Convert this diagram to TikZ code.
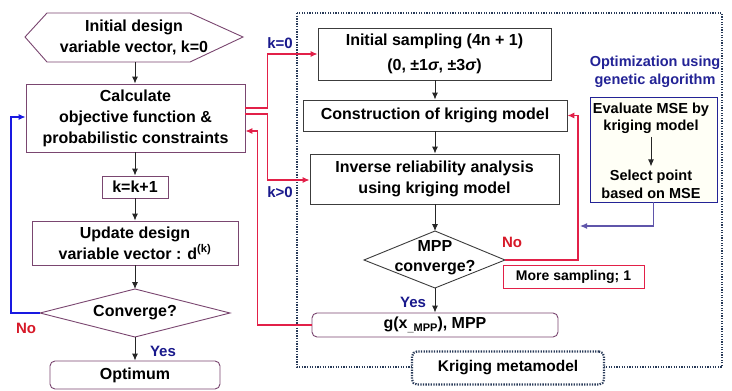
\documentclass[tikz,border=0pt]{standalone}
\usepackage{fontspec}
\setmainfont{Liberation Sans}
\usetikzlibrary{arrows.meta,calc}
\definecolor{purp}{RGB}{122,70,112}
\definecolor{darkbox}{RGB}{60,60,60}
\definecolor{lnred}{RGB}{226,32,72}
\definecolor{loopblue}{RGB}{25,25,225}
\definecolor{lblblue}{RGB}{25,25,140}
\definecolor{nored}{RGB}{215,25,40}
\definecolor{dotcol}{RGB}{40,58,88}
\definecolor{gablue}{RGB}{35,35,150}
\definecolor{gaarrow}{RGB}{95,85,170}
\definecolor{cream}{RGB}{255,255,246}
\begin{document}
\begin{tikzpicture}[x=1pt,y=-1pt,
  txt/.style={inner sep=0pt, align=center, font=\bfseries\fontsize{16}{21}\selectfont},
  lbox/.style={txt, draw=purp, line width=0.9pt, fill=white},
  rbox/.style={txt, draw=darkbox, line width=0.9pt, fill=white},
  arr/.style={-{Latex[length=7pt,width=6pt]}, line width=0.9pt, draw=black!85},
  redln/.style={-{Latex[length=7pt,width=6pt]}, line width=1.1pt, draw=lnred},
  bluelbl/.style={inner sep=0pt, text=lblblue, font=\bfseries\fontsize{15}{18}\selectfont},
  redlbl/.style={inner sep=0pt, text=nored, font=\bfseries\fontsize{15}{18}\selectfont},
  dotline/.style={draw=dotcol, line width=2.2pt, dash pattern=on 1.3pt off 1.3pt}
]
\fill[white] (0,0) rectangle (732,391);
\useasboundingbox (0,0) rectangle (732,391);

% Kriging metamodel frame
\draw[dotline] (297,13) rectangle (722,367);

% ---------------- left column: design loop ----------------
\draw[draw=purp, line width=0.9pt, fill=white]
  (25,37) -- (47,13) -- (190,13) -- (243,37) -- (190,62) -- (47,62) -- cycle;
\node[txt] (init) at (134,37) {Initial design\\variable vector, k=0};
\coordinate (initb) at (135,62);

\node[lbox, minimum width=219pt, minimum height=68pt] (calc) at (135.5,118)
  {Calculate\\objective function \&\\probabilistic constraints};
\node[lbox, minimum width=66pt, minimum height=22pt] (kinc) at (135,187) {k=k+1};
\node[lbox, minimum width=206pt, minimum height=44pt] (upd) at (135,243)
  {Update design\\variable vector : d\textsuperscript{(k)}};

\coordinate (cl) at (40,313);
\coordinate (ct) at (135,289);
\coordinate (cr) at (230,313);
\coordinate (cb) at (135,337);
\draw[draw=purp, line width=0.9pt, fill=white] (cl) -- (ct) -- (cr) -- (cb) -- cycle;
\node[txt] (conv) at (135,313) {Converge?};

\node[lbox, rounded corners=5pt, minimum width=170pt, minimum height=28pt] (opt) at (135,375) {Optimum};

\draw[arr] (initb) -- (initb |- calc.north);
\draw[arr] (kinc.north |- calc.south) -- (kinc.north);
\draw[arr] (kinc.south) -- (upd.north);
\draw[arr] (upd.south) -- (ct);
\draw[arr] (cb) -- (opt.north);

\draw[-{Latex[length=7pt,width=6pt]}, line width=1.1pt, draw=loopblue]
  (cl) -- ++(-29,0) |- ([yshift=1pt]calc.west);
\node[redlbl] at (26,328) {No};
\node[bluelbl] at (163,351) {Yes};

% ---------------- right column: kriging metamodel ----------------
\node[rbox, minimum width=233pt, minimum height=52pt, font=\bfseries\fontsize{16}{25}\selectfont]
  (samp) at (434.5,54) {Initial sampling (4n + 1)\\(0, ±1\textit{σ}, ±3\textit{σ})};
\node[rbox, minimum width=264pt, minimum height=31pt] (cons) at (435,115.5)
  {Construction of kriging model};
\node[rbox, minimum width=249pt, minimum height=50pt] (inv) at (434.5,179)
  {Inverse reliability analysis\\using kriging model};

\coordinate (ml) at (364,260);
\coordinate (mt) at (435,231);
\coordinate (mr) at (505,260);
\coordinate (mb) at (435,288);
\draw[draw=darkbox, line width=0.9pt, fill=white] (ml) -- (mt) -- (mr) -- (mb) -- cycle;
\node[txt, font=\bfseries\fontsize{16}{20}\selectfont] (mpp) at (435,258) {MPP\\converge?};

\node[lbox, rounded corners=5pt, minimum width=246pt, minimum height=24pt] (gx) at (435,325)
  {g(x\raisebox{-3pt}{\fontsize{11}{11}\selectfont\_MPP}), MPP};

\node[txt, draw=lnred, line width=0.9pt, fill=white, minimum width=141pt, minimum height=23pt,
  font=\bfseries\fontsize{14}{16}\selectfont] (more) at (573.5,276.5) {More sampling; 1};

\draw[arr] (samp.south -| cons.north) -- (cons.north);
\draw[arr] (cons.south) -- (cons.south |- inv.north);
\draw[arr] (mt |- inv.south) -- (mt);
\draw[arr] (mb) -- (gx.north);

\node[bluelbl] at (413,302) {Yes};
\node[redlbl] at (512,242) {No};

% genetic algorithm block
\node[inner sep=0pt, align=center, text=gablue, font=\bfseries\fontsize{14.5}{18.5}\selectfont]
  (galbl) at (655,72) {Optimization using\\genetic algorithm};
\node[draw=gablue, line width=0.9pt, fill=cream, minimum width=127pt, minimum height=105pt, inner sep=0pt]
  (ga) at (653.5,149.5) {};
\node[txt, font=\bfseries\fontsize{14.5}{17}\selectfont] (eval) at (651,118.5) {Evaluate MSE by\\kriging model};
\node[txt, font=\bfseries\fontsize{14.5}{18}\selectfont] (sel) at (651,184) {Select point\\based on MSE};
\draw[arr, line width=1pt] ([yshift=-3pt]eval.south) -- ([yshift=3pt]sel.north);

% loop connectors
\draw[redln] ([yshift=10pt]calc.east) -- ++(22,0) |- (samp.west);
\draw[redln] ([yshift=4pt]calc.east) -- ++(22,0) |- ([yshift=-1pt]inv.west);
\draw[redln] (gx.west) -- ++(-54,0) |- ([yshift=-13pt]calc.east);
\draw[redln] (mr) -- ++(73,0) |- (cons.east);
\coordinate (gaend) at (580,226);
\draw[-{Latex[length=7pt,width=6pt]}, line width=1.1pt, draw=gaarrow] (ga.south) |- (gaend);

\node[bluelbl] at (280,43) {k=0};
\node[bluelbl] at (280,192) {k>0};

% frame caption
\node[txt, dotline, rounded corners=5pt,
  fill=white, minimum width=192pt, minimum height=33pt, font=\bfseries\fontsize{15.5}{18}\selectfont]
  (krig) at (508,368) {Kriging metamodel};
\end{tikzpicture}
\end{document}
